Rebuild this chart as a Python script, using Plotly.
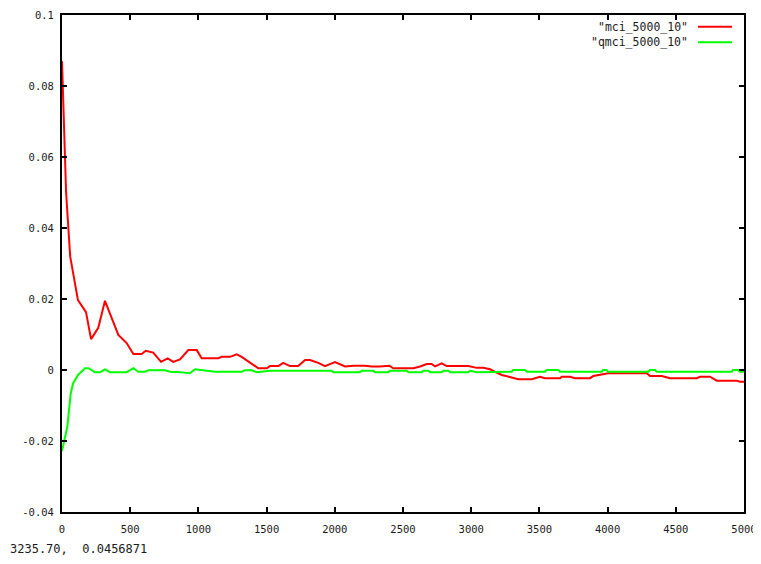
import plotly.graph_objects as go

# ---- data ----
mci_x = [0, 15, 30, 60, 117, 176, 213, 266, 315, 413, 474, 523, 584, 614, 669, 726, 775, 816, 865,
         926, 988, 1024, 1146, 1171, 1232, 1281, 1317, 1439, 1501, 1525, 1586, 1622, 1672, 1732,
         1782, 1818, 1879, 1928, 2001, 2075, 2136, 2221, 2271, 2331, 2368, 2400, 2429, 2576, 2625,
         2674, 2710, 2735, 2784, 2820, 2979, 3040, 3089, 3138, 3175, 3224, 3297, 3345, 3444, 3504,
         3541, 3651, 3664, 3724, 3761, 3871, 3895, 3981, 4005, 4287, 4311, 4397, 4457, 4653, 4677,
         4751, 4800, 4946, 4971, 5000]
mci_y = [0.087, 0.068, 0.05, 0.032, 0.0197, 0.0163, 0.0087, 0.0119, 0.0195, 0.0099, 0.0076, 0.0045,
         0.0045, 0.0054, 0.0049, 0.0023, 0.0033, 0.0023, 0.003, 0.0056, 0.0056, 0.0033, 0.0033,
         0.0037, 0.0037, 0.0044, 0.0037, 0.0005, 0.0005, 0.0011, 0.0011, 0.002, 0.0011, 0.0011,
         0.0028, 0.0028, 0.002, 0.0011, 0.0022, 0.001, 0.0012, 0.0012, 0.001, 0.001, 0.0012, 0.0012,
         0.0005, 0.0005, 0.001, 0.0017, 0.0017, 0.001, 0.0019, 0.0011, 0.0011, 0.0006, 0.0006,
         0.0002, -0.0005, -0.0014, -0.0021, -0.0026, -0.0026, -0.0019, -0.0023, -0.0023, -0.0019,
         -0.0019, -0.0023, -0.0023, -0.0017, -0.0011, -0.0009, -0.0009, -0.0017, -0.0017, -0.0023,
         -0.0023, -0.0019, -0.0019, -0.003, -0.003, -0.0033, -0.0033]

qmci_x = [0, 39, 64, 81, 117, 169, 193, 242, 279, 315, 352, 474, 523, 559, 609, 633, 755, 792, 865,
          914, 938, 975, 1024, 1122, 1317, 1342, 1391, 1427, 1525, 1977, 1989, 2185, 2197, 2282,
          2295, 2392, 2405, 2527, 2539, 2637, 2649, 2686, 2698, 2784, 2795, 2832, 2845, 2979, 2991,
          3040, 3297, 3306, 3394, 3409, 3541, 3553, 3639, 3651, 3957, 3966, 3993, 4003, 4298, 4311,
          4348, 4360, 4910, 4919, 4956, 4971, 5000]
qmci_y = [-0.0228, -0.016, -0.0066, -0.0038, -0.0014, 0.0005, 0.0005, -0.0006, -0.0006, 0.0002,
          -0.0006, -0.0006, 0.0005, -0.0005, -0.0005, -0.0001, -0.0001, -0.0005, -0.0006, -0.0009,
          -0.0009, 0.0002, -0.0001, -0.0005, -0.0005, -0.0001, -0.0001, -0.0006, -0.0002, -0.0002,
          -0.0006, -0.0006, -0.0002, -0.0002, -0.0006, -0.0006, -0.0002, -0.0002, -0.0006, -0.0006,
          -0.0002, -0.0002, -0.0006, -0.0006, -0.0002, -0.0002, -0.0006, -0.0006, -0.0002, -0.0006,
          -0.0005, 0.0, 0.0, -0.0005, -0.0005, 0.0, 0.0, -0.0005, -0.0005, 0.0, 0.0, -0.0005,
          -0.0005, 0.0, 0.0, -0.0005, -0.0005, 0.0, 0.0, -0.0005, -0.0005]

series_names = ['"mci_5000_10"', '"qmci_5000_10"']
x_tickvals = [0, 500, 1000, 1500, 2000, 2500, 3000, 3500, 4000, 4500, 5000]
x_ticktext = ["0", "500", "1000", "1500", "2000", "2500", "3000", "3500", "4000", "4500", "5000"]
y_tickvals = [-0.04, -0.02, 0, 0.02, 0.04, 0.06, 0.08, 0.1]
y_ticktext = ["-0.04", "-0.02", "0", "0.02", "0.04", "0.06", "0.08", "0.1"]
status_text = "3235.70,  0.0456871"

RED = "#ff0000"
GREEN = "#00ff00"
FONT = "DejaVu Sans Mono"

fig = go.Figure()
fig.add_trace(go.Scatter(x=mci_x, y=mci_y, mode="lines", name=series_names[0],
                         line=dict(color=RED, width=2)))
fig.add_trace(go.Scatter(x=qmci_x, y=qmci_y, mode="lines", name=series_names[1],
                         line=dict(color=GREEN, width=2)))

# page has an 8px body margin; lay the figure out in page pixels
OFF = 8
PAGE_W, PAGE_H = 761, 564
W, H = PAGE_W - OFF, PAGE_H - 2 * OFF
plot_left, plot_right, plot_top, plot_bottom = 62, 744, 15, 512
L = plot_left - OFF
T = plot_top - OFF
R = W - (plot_right - OFF)
B = H - (plot_bottom - OFF)
pw, ph = W - L - R, H - T - B

def px(xp):
    return (xp - plot_left) / pw

def py(yp):
    return (plot_bottom - yp) / ph

axis_common = dict(showgrid=False, zeroline=False, showline=True, linecolor="black",
                   linewidth=2, mirror="allticks", ticks="inside", ticklen=5,
                   tickwidth=1.5, tickcolor="black", automargin=False,
                   tickfont=dict(family=FONT, size=10.5, color="#1a1a1a"))

fig.update_xaxes(range=[0, 5000], tickvals=x_tickvals, ticktext=x_ticktext,
                 ticklabelstandoff=6, **axis_common)
fig.update_yaxes(range=[-0.04, 0.1], tickvals=y_tickvals, ticktext=y_ticktext,
                 ticklabelstandoff=4, **axis_common)

# gnuplot-style key: text right-aligned, sample line to the right
key_rows = [(26.7, RED), (42.3, GREEN)]
for name, (yp, col) in zip(series_names, key_rows):
    fig.add_annotation(xref="paper", yref="paper", x=px(690), y=py(yp), text=name,
                       showarrow=False, xanchor="right", yanchor="middle",
                       font=dict(family=FONT, size=11.5, color="#1a1a1a"))
    fig.add_shape(type="line", xref="paper", yref="paper", x0=px(698), x1=px(732),
                  y0=py(yp), y1=py(yp), line=dict(color=col, width=2))

fig.add_annotation(xref="paper", yref="paper", x=px(OFF), y=py(549), text=status_text,
                   showarrow=False, xanchor="left", yanchor="middle",
                   font=dict(family=FONT, size=12, color="#1a1a1a"))

fig.update_layout(width=W, height=H, margin=dict(l=L, r=R, t=T, b=B, autoexpand=False),
                  paper_bgcolor="white", plot_bgcolor="white", showlegend=False)

fig.write_html("out.html")
